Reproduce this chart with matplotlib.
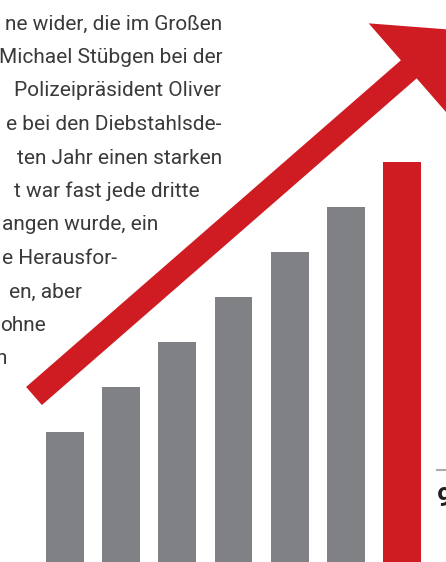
import matplotlib
matplotlib.use("Agg")
import matplotlib.pyplot as plt
from matplotlib.patches import FancyArrow

# ---- data ----
categories = ["1", "2", "3", "4", "5", "6", "7"]
values = [130, 175, 220, 265, 310, 355, 400]
bar_colors = ["#808184"] * 6 + ["#cf1c22"]

text_lines = [
    "ne wider, die im Großen",
    "Michael Stübgen bei der",
    "Polizeipräsident Oliver",
    "e bei den Diebstahlsde-",
    "ten Jahr einen starken",
    "t war fast jede dritte",
    "angen wurde, ein",
    "e Herausfor-",
    "en, aber",
    "ohne",
    "n",
]
text_right = [222.5, 222.5, 221.5, 221, 222.5, 200, 158, 117, 82, 45.5, 7]

W, H = 446, 562
fig = plt.figure(figsize=(W / 100, H / 100), dpi=100)
fig.patch.set_facecolor("white")

# bar axes
ax = fig.add_axes([0, 0, 1, 1])
x = list(range(len(categories)))
ax.bar(x, values, width=0.675, color=bar_colors, zorder=2)
px0, step = 65.0, 56.17
ax.set_xlim(-px0 / step, (W - px0) / step)
ax.set_ylim(0, H)
ax.axis("off")

# overlay in pixel coordinates for text / arrow
ov = fig.add_axes([0, 0, 1, 1], facecolor="none")
ov.set_xlim(0, W)
ov.set_ylim(H, 0)
ov.axis("off")

for i, (line, xr) in enumerate(zip(text_lines, text_right)):
    ov.text(xr, 29.5 + 33.5 * i, line, ha="right", va="baseline",
            fontsize=15, color="#3a3a3a", family="Roboto")

# arrow
ux, uy = 374 / 496.0, -326 / 496.0
L = 557.0
arrow = FancyArrow(34, 396, L * ux, L * uy, width=24, head_width=122,
                   head_length=60, length_includes_head=True,
                   color="#cf1c22", linewidth=0, zorder=3)
ov.add_patch(arrow)

# partial axis label at right
ov.plot([437, 447], [470, 470], color="#aaaaaa", lw=1.5)
ov.text(437, 506, "9", ha="left", va="baseline", fontsize=19,
        fontweight="bold", color="#222222", family="Roboto")

fig.savefig("out.png", dpi=100, facecolor="white")
